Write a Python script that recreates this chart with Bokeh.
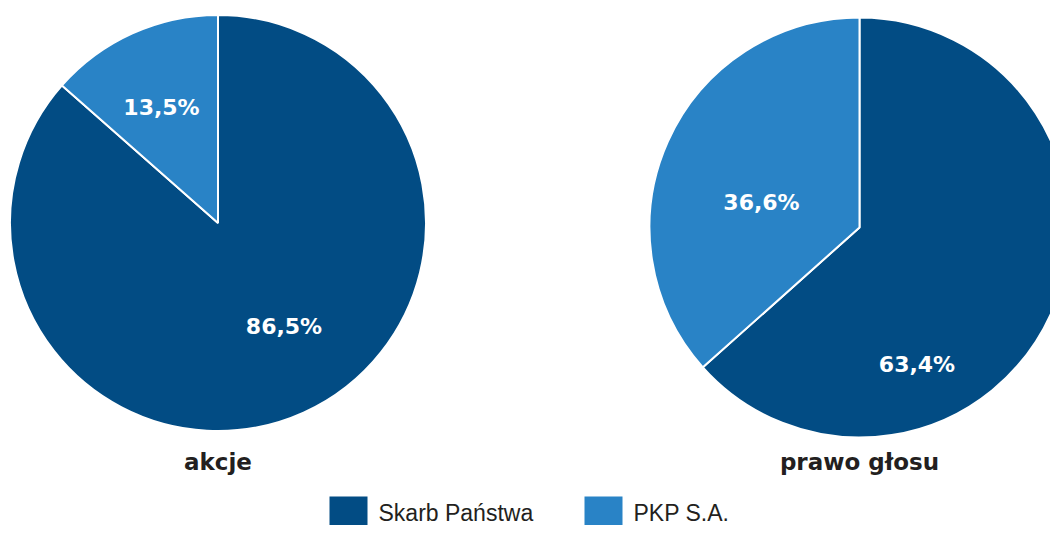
import math
from bokeh.plotting import figure
from bokeh.models import ColumnDataSource, Range1d
from bokeh.core.properties import value
from bokeh.embed import file_html
from bokeh.resources import INLINE

# ---- data ----
categories = ["Skarb Państwa", "PKP S.A."]
akcje = [86.5, 13.5]
prawo_glosu = [63.4, 36.6]
pie_titles = ["akcje", "prawo głosu"]
colors = ["#024C84", "#2983C6"]

# ---- layout (screen px, y measured downwards from top of figure) ----
W, H = 1050, 525
pies = [
    dict(values=akcje, title=pie_titles[0], cx=217.5, cy=222.5, r=208,
         label_off=[(66, 103), (-56.5, -116)]),
    dict(values=prawo_glosu, title=pie_titles[1], cx=859, cy=227, r=210,
         label_off=[(57.5, 137), (-98, -25)]),
]

p = figure(width=W, height=H, output_backend="svg", toolbar_location=None,
           x_range=Range1d(0, W), y_range=Range1d(0, H),
           x_axis_location=None, y_axis_location=None, min_border=0,
           outline_line_color=None, background_fill_color="white",
           border_fill_color="white")
p.grid.visible = False

def Y(screen_y):
    return H - screen_y

for pie in pies:
    vals = pie["values"]
    total = sum(vals)
    starts, ends, xs, ys, lx, ly, texts = [], [], [], [], [], [], []
    cum = 0.0
    for i, v in enumerate(vals):
        a0 = math.pi / 2 - 2 * math.pi * (cum + v) / total
        a1 = math.pi / 2 - 2 * math.pi * cum / total
        cum += v
        starts.append(a0)
        ends.append(a1)
        xs.append(pie["cx"])
        ys.append(Y(pie["cy"]))
        dx, dy = pie["label_off"][i]
        lx.append(pie["cx"] + dx)
        ly.append(Y(pie["cy"] + dy))
        texts.append(f"{v:.1f}".replace(".", ",") + "%")
    src = ColumnDataSource(dict(x=xs, y=ys, start=starts, end=ends,
                                color=colors[:len(vals)]))
    p.wedge(x="x", y="y", radius=pie["r"], start_angle="start", end_angle="end",
            fill_color="color", line_color="white", line_width=2, source=src)
    lsrc = ColumnDataSource(dict(x=lx, y=ly, text=texts))
    p.text(x="x", y="y", text="text", source=lsrc, text_color="white",
           text_font=value("DejaVu Sans"), text_font_style="bold",
           text_font_size="22px", text_align="center", text_baseline="middle")
    p.text(x=[pie["cx"]], y=[Y(461)], text=[pie["title"]], text_color="#231F20",
           text_font=value("DejaVu Sans"), text_font_style="bold",
           text_font_size="23px", text_align="center", text_baseline="middle")

# ---- legend ----
leg_sq_x = [329, 584]
leg_txt_x = [378, 633]
sq = 38
sq_top = 496
p.quad(left=leg_sq_x, right=[x + sq for x in leg_sq_x],
       top=[Y(sq_top)] * 2, bottom=[Y(sq_top + sq)] * 2,
       fill_color=colors, line_color=None)
p.text(x=leg_txt_x, y=[Y(512)] * 2, text=categories, text_color="#231F20",
       text_font=value("Liberation Sans"), text_font_size="23px",
       text_align="left", text_baseline="middle")

open("out.html", "w").write(file_html(p, INLINE))
